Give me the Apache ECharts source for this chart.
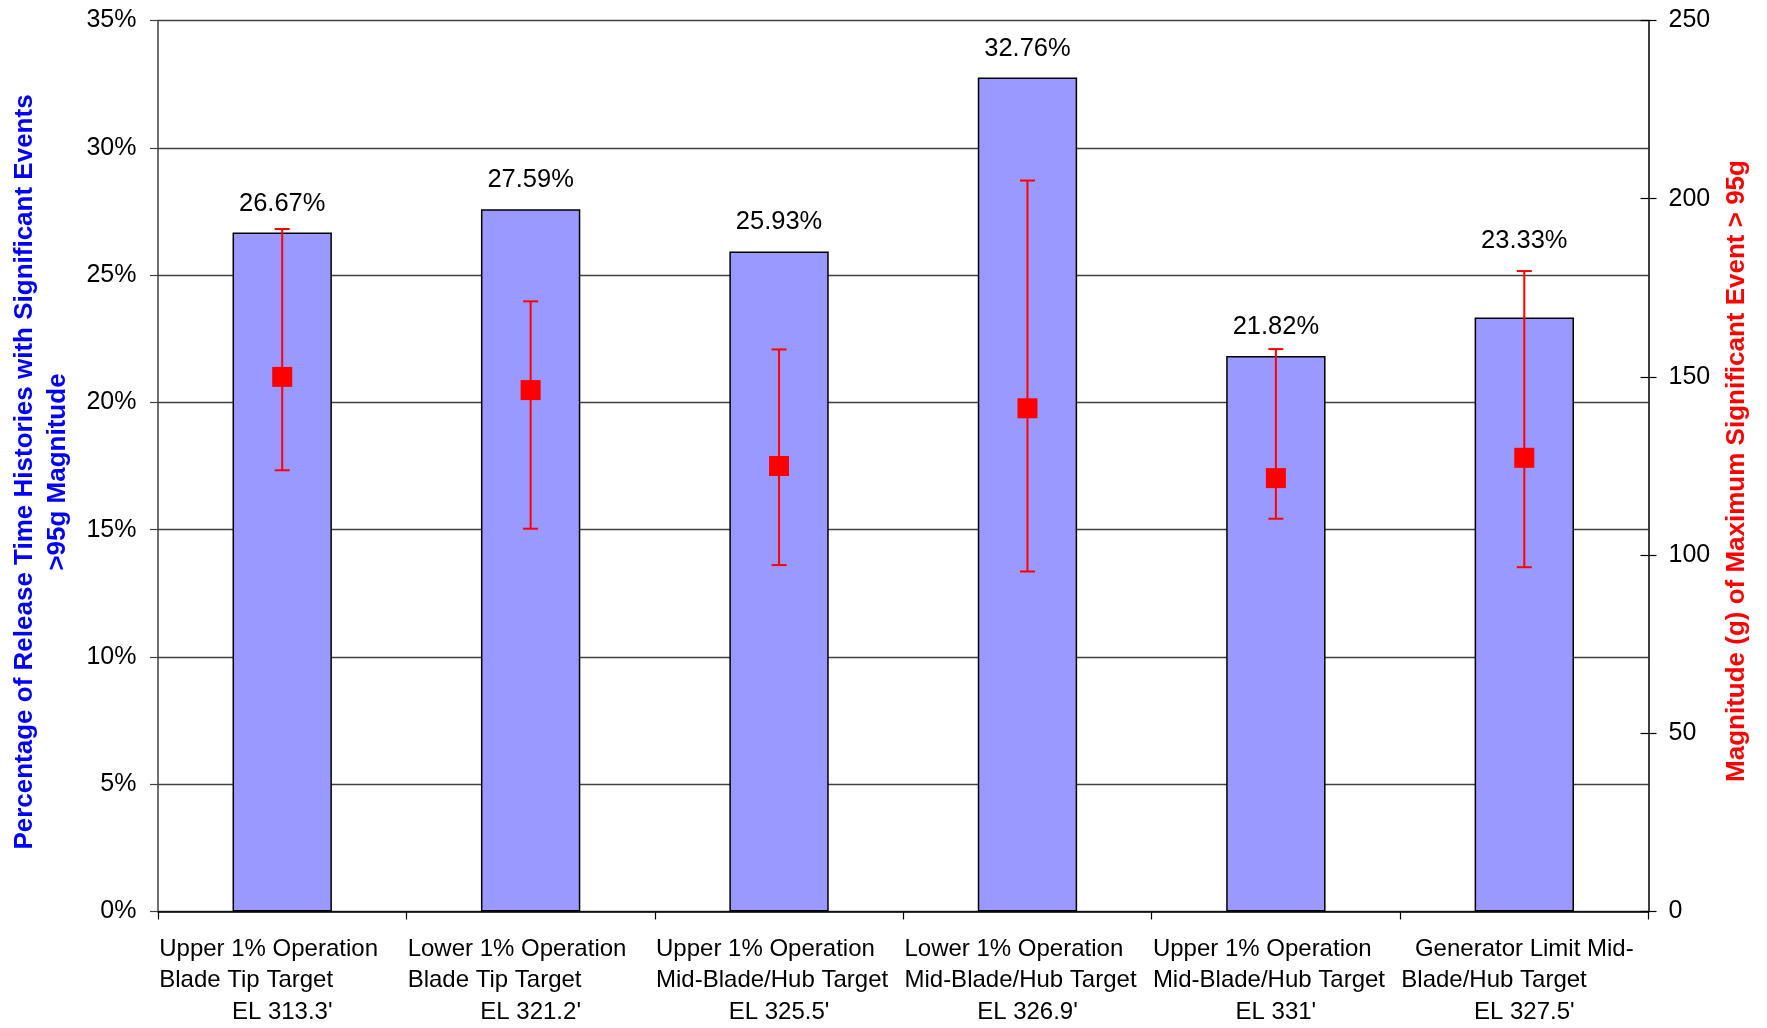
<!DOCTYPE html>
<html>
<head>
<meta charset="utf-8">
<script src="https://cdn.jsdelivr.net/npm/echarts@6/dist/echarts.min.js"></script>
<style>
html,body{margin:0;padding:0;background:#fff;}
#chart{width:1767px;height:1028px;}
</style>
</head>
<body>
<div id="chart"></div>
<script>
// ---- data ----
const categoryLines = [
  ["Upper 1% Operation", "Blade Tip Target", "EL 313.3'"],
  ["Lower 1% Operation", "Blade Tip Target", "EL 321.2'"],
  ["Upper 1% Operation", "Mid-Blade/Hub Target", "EL 325.5'"],
  ["Lower 1% Operation", "Mid-Blade/Hub Target", "EL 326.9'"],
  ["Upper 1% Operation", "Mid-Blade/Hub Target", "EL 331'"],
  ["Generator Limit Mid-", "Blade/Hub Target", "EL 327.5'"]
];
const percentValues = [26.67, 27.59, 25.93, 32.76, 21.82, 23.33];
const magnitudeMean = [150, 146.3, 125, 141.2, 121.6, 127.3];
const magnitudeHigh = [191.5, 171.2, 157.7, 205.1, 157.8, 179.7];
const magnitudeLow = [123.8, 107.4, 97.2, 95.4, 110.2, 96.6];
const leftTicks = { min: 0, max: 35, interval: 5 };
const rightTicks = { min: 0, max: 250, interval: 50 };
const leftTitle = "Percentage of Release Time Histories with Significant Events\n>95g Magnitude";
const rightTitle = "Magnitude (g) of Maximum Significant Event > 95g";

// ---- chart ----
const categories = categoryLines.map(l => l.join(' '));
const FONT = '"Liberation Sans", Arial, sans-serif';
const chart = echarts.init(document.getElementById('chart'), null, { renderer: 'canvas' });

const errorData = categories.map((c, i) => [i, magnitudeLow[i], magnitudeHigh[i]]);
// the last bar's label sits higher (above its error bar) in the original
const barData = percentValues.map((v, i) =>
  i === 5 ? { value: v, label: { offset: [0, -48] } } : v);

const option = {
  backgroundColor: '#ffffff',
  animation: false,
  textStyle: { fontFamily: FONT },
  grid: { left: 156, right: 118.5, top: 20.5, bottom: 115, containLabel: false },
  xAxis: {
    type: 'category',
    data: categories,
    boundaryGap: true,
    axisLine: { show: true, lineStyle: { color: '#000', width: 1.5 } },
    axisTick: { show: true, inside: false, length: 8, lineStyle: { color: '#000', width: 1.2 } },
    axisLabel: {
      interval: 0,
      margin: 22,
      align: 'center',
      color: '#000',
      fontFamily: FONT,
      fontSize: 24,
      lineHeight: 31.5,
      formatter: function (value, idx) {
        const lines = categoryLines[idx];
        return lines.map((t, i) => {
          const centered = (i === 2) || (idx === 5 && i === 0);
          return '{' + (centered ? 'c' : 'l') + '|' + t + '}';
        }).join('\n');
      },
      rich: {
        l: { width: 246, align: 'left', fontSize: 24, lineHeight: 31.5, color: '#000', fontFamily: FONT },
        c: { width: 246, align: 'center', fontSize: 24, lineHeight: 31.5, color: '#000', fontFamily: FONT }
      }
    },
    splitLine: { show: false }
  },
  yAxis: [
    {
      type: 'value',
      position: 'left',
      min: leftTicks.min, max: leftTicks.max, interval: leftTicks.interval,
      name: leftTitle,
      nameLocation: 'middle',
      nameRotate: 90,
      nameGap: 84,
      nameTextStyle: { color: '#0000FF', fontWeight: 'bold', fontSize: 26, lineHeight: 33, fontFamily: FONT, padding: [0, 12, 0, 0] },
      axisLine: { show: true, lineStyle: { color: '#404040', width: 1.5 } },
      axisTick: { show: true, inside: false, length: 8, lineStyle: { color: '#404040', width: 1.2 } },
      axisLabel: { formatter: '{value}%', color: '#000', fontSize: 25, margin: 21.5, fontFamily: FONT },
      splitLine: { show: true, lineStyle: { color: '#404040', width: 1.3 } }
    },
    {
      type: 'value',
      position: 'right',
      min: rightTicks.min, max: rightTicks.max, interval: rightTicks.interval,
      name: rightTitle,
      nameLocation: 'middle',
      nameRotate: 90,
      nameGap: 75,
      nameTextStyle: { color: '#FF0000', fontWeight: 'bold', fontSize: 26, fontFamily: FONT, padding: [0, 10, 0, 0] },
      axisLine: { show: true, lineStyle: { color: '#000', width: 1.5 } },
      axisTick: { show: true, inside: false, length: 8, lineStyle: { color: '#000', width: 1.2 } },
      axisLabel: { color: '#000', fontSize: 25, margin: 20, fontFamily: FONT },
      splitLine: { show: false }
    },
    {
      type: 'value',
      position: 'right',
      min: rightTicks.min, max: rightTicks.max, interval: rightTicks.interval,
      axisLine: { show: false },
      axisTick: { show: true, inside: true, length: 8, lineStyle: { color: '#000', width: 1.2 } },
      axisLabel: { show: false },
      splitLine: { show: false }
    }
  ],
  series: [
    {
      type: 'bar',
      data: barData,
      yAxisIndex: 0,
      barWidth: '40%',
      itemStyle: { color: '#9999FF', borderColor: '#000', borderWidth: 1.5 },
      label: {
        show: true, position: 'top', distance: 16,
        color: '#000', fontSize: 25.5, fontFamily: FONT,
        formatter: p => p.value.toFixed(2) + '%'
      },
      z: 2
    },
    {
      type: 'custom',
      yAxisIndex: 1,
      data: errorData,
      renderItem: function (params, api) {
        const x = api.value(0);
        const lo = api.coord([x, api.value(1)]);
        const hi = api.coord([x, api.value(2)]);
        const hw = 7.5;
        const style = { stroke: '#FF0000', lineWidth: 2, fill: null };
        return {
          type: 'group',
          children: [
            { type: 'line', shape: { x1: hi[0], y1: hi[1], x2: lo[0], y2: lo[1] }, style: style },
            { type: 'line', shape: { x1: hi[0] - hw, y1: hi[1], x2: hi[0] + hw, y2: hi[1] }, style: style },
            { type: 'line', shape: { x1: lo[0] - hw, y1: lo[1], x2: lo[0] + hw, y2: lo[1] }, style: style }
          ]
        };
      },
      z: 3
    },
    {
      type: 'scatter',
      yAxisIndex: 1,
      data: magnitudeMean,
      symbol: 'rect',
      symbolSize: 20,
      itemStyle: { color: '#FF0000', opacity: 1 },
      z: 4
    }
  ]
};
chart.setOption(option);
</script>
</body>
</html>
